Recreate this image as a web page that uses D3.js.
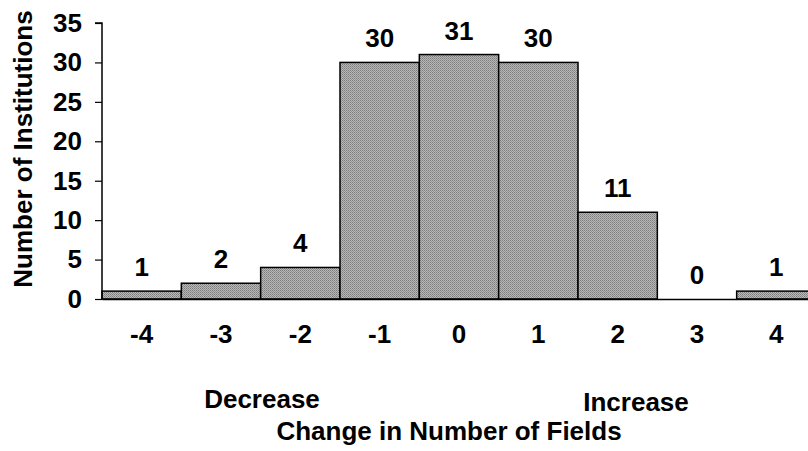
<!DOCTYPE html>
<html lang="en">
<head>
    <meta charset="UTF-8">
    <title>Change in Number of Fields</title>
    <script src="https://d3js.org/d3.v7.min.js"></script>
    <style>
        body { margin: 0; background: #fff; }
        svg text {
            font-family: "Liberation Sans", Arial, sans-serif;
            font-weight: bold;
            fill: #000;
        }
        .bar {
            stroke: #000;
            stroke-width: 1.5;
        }
    </style>
</head>
<body>
<script>
    const width = 808;
    const height = 451;

    // data
    const changes = ["-4", "-3", "-2", "-1", "0", "1", "2", "3", "4"];
    const institutions = [1, 2, 4, 30, 31, 30, 11, 0, 1];
    const yTicks = [0, 5, 10, 15, 20, 25, 30, 35];

    const svg = d3.select("body").append("svg")
            .attr("width", width).attr("height", height);

    // dithered grey like the scanned original
    const pat = svg.append("defs").append("pattern")
            .attr("id", "dither")
            .attr("width", 2).attr("height", 2)
            .attr("patternUnits", "userSpaceOnUse");
    pat.append("rect").attr("width", 2).attr("height", 2).attr("fill", "#b8b8b8");
    pat.append("rect").attr("width", 1).attr("height", 1).attr("fill", "#7c7c7c");
    pat.append("rect").attr("x", 1).attr("y", 1).attr("width", 1).attr("height", 1).attr("fill", "#909090");

    const x = d3.scaleBand()
            .domain(changes)
            .range([102, 816])
            .padding(0);

    const y = d3.scaleLinear()
            .domain([0, 35])
            .range([299, 23]);

    // bars
    svg.selectAll("rect.bar")
            .data(institutions)
            .enter()
            .append("rect")
            .attr("class", "bar")
            .attr("x", (d, i) => x(changes[i]))
            .attr("y", d => y(d))
            .attr("width", x.bandwidth())
            .attr("height", d => y(0) - y(d))
            .attr("fill", "url(#dither)");

    // value labels
    svg.selectAll("text.val")
            .data(institutions)
            .enter()
            .append("text")
            .attr("class", "val")
            .attr("x", (d, i) => x(changes[i]) + x.bandwidth() / 2)
            .attr("y", d => y(d) - 15)
            .attr("text-anchor", "middle")
            .style("font-size", "26px")
            .text(d => d);

    // y axis
    const yAxis = d3.axisLeft(y)
            .tickValues(yTicks)
            .tickSize(7)
            .tickPadding(13);
    const gy = svg.append("g")
            .attr("transform", "translate(102,0)")
            .call(yAxis);
    gy.select(".domain").attr("stroke", "#000").attr("stroke-width", 1.5)
            .attr("d", `M-7,${y(35)}H0V${y(0)}`);
    gy.selectAll(".tick line").attr("stroke", "#000").attr("stroke-width", 1.2);
    gy.selectAll(".tick text")
            .style("font-size", "26px")
            .style("font-family", "'Liberation Sans', Arial, sans-serif")
            .style("font-weight", "bold");

    // x axis
    const xAxis = d3.axisBottom(x).tickSize(0).tickPadding(26);
    const gx = svg.append("g")
            .attr("transform", `translate(0,${y(0)})`)
            .call(xAxis);
    gx.select(".domain").attr("stroke", "#000").attr("stroke-width", 1.5);
    gx.selectAll(".tick text")
            .style("font-size", "26px")
            .style("font-family", "'Liberation Sans', Arial, sans-serif")
            .style("font-weight", "bold");

    // titles
    svg.append("text")
            .attr("transform", "translate(32,149) rotate(-90)")
            .attr("text-anchor", "middle")
            .style("font-size", "26px")
            .text("Number of Institutions");

    svg.append("text")
            .attr("x", 262).attr("y", 408)
            .attr("text-anchor", "middle")
            .style("font-size", "26px")
            .text("Decrease");

    svg.append("text")
            .attr("x", 636).attr("y", 411)
            .attr("text-anchor", "middle")
            .style("font-size", "26px")
            .text("Increase");

    svg.append("text")
            .attr("x", 449).attr("y", 440)
            .attr("text-anchor", "middle")
            .style("font-size", "26px")
            .text("Change in Number of Fields");
</script>
</body>
</html>
